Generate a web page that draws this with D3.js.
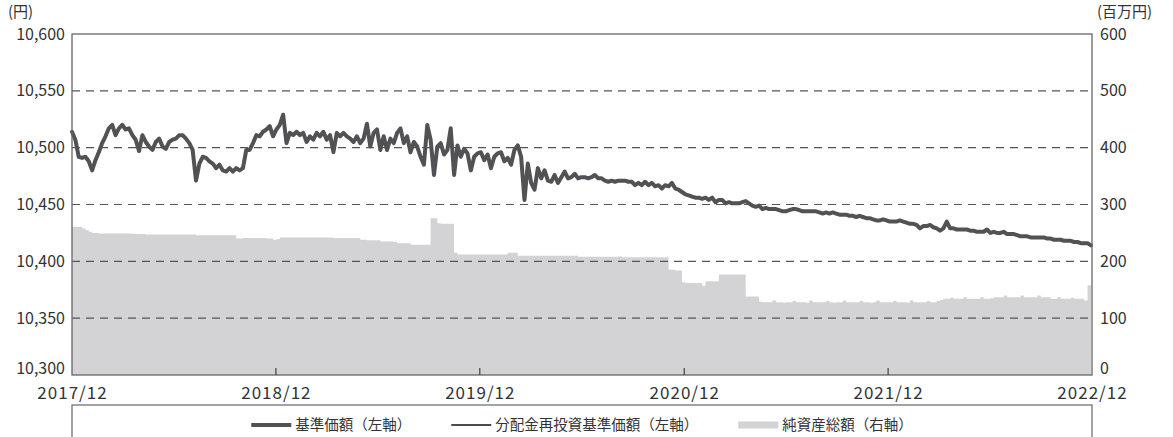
<!DOCTYPE html>
<html>
<head>
<meta charset="utf-8">
<script src="https://cdn.jsdelivr.net/npm/d3@7"></script>
<style>
  body { margin: 0; background: #fff; }
  svg text { font-family: "Noto Sans CJK JP", "Noto Sans", sans-serif; fill: #333; }
</style>
</head>
<body>
<svg id="chart" width="1173" height="437"></svg>
<script>
// Sampling: one observation every 6 calendar days from 2017/12/01
const startDate = new Date(2017, 11, 1);
const stepDays = 6;

// 基準価額 (円)
const navValues = [
  10514,10507,10492,10491,10492,10488,10480,10489,10496,10504,
  10510,10517,10520,10511,10517,10520,10516,10517,10511,10507,
  10497,10511,10505,10501,10498,10505,10508,10501,10499,10505,
  10507,10508,10511,10511,10508,10504,10498,10471,10486,10492,
  10491,10488,10486,10482,10485,10480,10479,10482,10479,10482,
  10480,10482,
  10498,10498,10504,10511,10510,10514,10516,10519,10510,10516,
  10520,10529,10504,10513,10511,10514,10511,10513,10505,10510,
  10507,10513,10510,10514,10507,10511,10496,10513,10510,10513,
  10510,10508,10505,10510,10504,10508,10521,10501,10513,10516,
  10498,10510,10498,10508,10504,10513,10517,10504,10510,10496,
  10505,10501,10492,10485,10520,10507,10476,10501,10504,10494,
  10498,10517,10476,10502,10492,10499,10495,10480,10492,10495,
  10496,10489,10494,10482,10492,10495,10496,10488,10491,10485,
  10498,10502,10492,10454,10486,10469,10463,10482,10473,10480,
  10471,10470,10476,10469,10474,10479,10473,10474,10477,10473,
  10474,
  10474,10473,10474,10476,10473,10473,10471,10470,10471,10470,
  10471,10471,10471,10470,10470,10467,10469,10467,10470,10467,
  10469,10466,10467,10464,10467,10466,10469,10464,10463,10461,
  10459,10458,10457,10456,10456,10455,10456,10454,10456,10452,
  10454,10454,10451,10452,10451,10451,10451,10452,10453,10451,
  10449,
  10448,10449,10446,10447,10446,10446,10446,10445,10444,10444,
  10445,10446,10446,10445,10444,10444,10444,10444,10444,10443,
  10442,10443,10442,10443,10442,10441,10441,10441,10440,10440,
  10439,10440,10439,10438,10438,10437,10436,10436,10437,10436,
  10435,10435,10435,10436,10435,10434,10433,10433,10432,10429,
  10431,
  10431,10432,10430,10429,10427,10429,10435,10429,10429,10428,
  10428,10428,10428,10427,10427,10426,10426,10426,10428,10425,
  10426,10425,10425,10426,10424,10424,10424,10423,10422,10422,
  10422,10421,10421,10421,10421,10421,10420,10420,10419,10419,
  10419,10418,10418,10418,10417,10417,10416,10416,10416,10414
];

// 分配金再投資基準価額 (円): no distributions over the period, so it equals 基準価額
const reinvestValues = navValues.slice();

// 純資産総額 (百万円)
const netAssets = [
  261,261,261,261,258,255,252,
  250,250,249,249,249,249,249,249,249,249,249,249,248,248,248,248,
  247,247,247,247,247,247,247,247,247,247,247,247,247,247,247,246,246,246,246,246,246,246,246,246,246,246,246,
  240,240,241,241,241,241,241,241,241,240,240,
  238,239,
  242,242,242,242,242,242,242,242,242,242,242,242,242,242,242,242,241,241,241,241,241,241,241,241,
  238,238,237,237,237,237,
  235,235,235,235,234,
  232,232,232,232,
  229,229,229,229,229,229,
  276,276,
  267,266,266,266,266,
  215,
  212,212,212,212,212,212,212,212,212,212,212,212,212,212,212,
  215,215,215,
  210,210,210,210,210,210,210,210,210,210,210,210,210,210,210,210,210,210,
  208,208,208,208,208,208,208,208,208,208,208,208,
  209,
  207,207,207,207,207,207,207,207,207,207,207,207,207,207,
  185,185,184,184,
  163,162,162,162,162,162,
  157,
  165,165,165,165,
  177,177,177,177,177,177,177,177,
  138,138,138,138,
  129,128,128,128,131,128,128,127,128,128,
  130,128,128,128,127,131,128,128,128,128,
  130,128,127,128,128,131,128,128,128,128,
  130,128,128,127,128,131,128,128,128,128,
  130,128,128,128,127,131,128,128,128,128,
  130,128,128,
  130,132,
  134,134,136,134,134,134,137,134,134,134,134,137,134,134,135,
  137,137,137,140,137,137,137,137,140,137,137,137,137,140,137,137,137,
  134,134,137,134,134,134,136,134,134,134,
  131,158
];

const leftTicks = [10300, 10350, 10400, 10450, 10500, 10550, 10600];
const gridValues = [10350, 10400, 10450, 10500, 10550];
const rightTicks = [0, 100, 200, 300, 400, 500, 600];
const xTickLabels = ["2017/12", "2018/12", "2019/12", "2020/12", "2021/12", "2022/12"];
const legendLabels = ["基準価額（左軸）", "分配金再投資基準価額（左軸）", "純資産総額（右軸）"];

const plot = { left: 72, right: 1092, top: 34, bottom: 375 };

const xTickDates = xTickLabels.map(s => {
  const [y, m] = s.split("/");
  return new Date(+y, +m - 1, 1);
});
const dateAt = i => d3.timeDay.offset(startDate, i * stepDays);

const x = d3.scaleTime()
  .domain([xTickDates[0], xTickDates[xTickDates.length - 1]])
  .range([plot.left, plot.right]);
const yL = d3.scaleLinear().domain([10300, 10600]).range([plot.bottom, plot.top]);
const yR = d3.scaleLinear().domain([0, 600]).range([plot.bottom, plot.top]);

const svg = d3.select("#chart");

// net assets area (right axis)
const assetArea = d3.area()
  .x((d, i) => x(dateAt(i)))
  .y0(yR(0))
  .y1(d => yR(d))
  .curve(d3.curveStepBefore);
svg.append("path")
  .datum(netAssets)
  .attr("d", assetArea)
  .attr("fill", "#d3d3d5");

// dashed grid
svg.append("g")
  .selectAll("line")
  .data(gridValues)
  .join("line")
  .attr("x1", plot.left).attr("x2", plot.right)
  .attr("y1", d => yL(d)).attr("y2", d => yL(d))
  .attr("stroke", "#555")
  .attr("stroke-width", 1.1)
  .attr("stroke-dasharray", "8,6");

// price lines (left axis)
const priceLine = d3.line()
  .x((d, i) => x(dateAt(i)))
  .y(d => yL(d));
svg.append("path")
  .datum(reinvestValues)
  .attr("d", priceLine)
  .attr("fill", "none")
  .attr("stroke", "#111")
  .attr("stroke-width", 1.2);
svg.append("path")
  .datum(navValues)
  .attr("d", priceLine)
  .attr("fill", "none")
  .attr("stroke", "#525254")
  .attr("stroke-width", 4)
  .attr("stroke-linejoin", "round")
  .attr("stroke-linecap", "round");

// frame
svg.append("rect")
  .attr("x", plot.left).attr("y", plot.top)
  .attr("width", plot.right - plot.left)
  .attr("height", plot.bottom - plot.top)
  .attr("fill", "none")
  .attr("stroke", "#666")
  .attr("stroke-width", 1.3);

// inner year ticks on the bottom edge
svg.append("g")
  .selectAll("line")
  .data(xTickDates.slice(1, -1))
  .join("line")
  .attr("x1", d => x(d)).attr("x2", d => x(d))
  .attr("y1", plot.bottom).attr("y2", plot.bottom - 7)
  .attr("stroke", "#444")
  .attr("stroke-width", 1.2);

// axes
const leftAxis = svg.append("g")
  .attr("transform", `translate(${plot.left},0)`)
  .call(d3.axisLeft(yL).tickValues(leftTicks).tickSize(0).tickPadding(7).tickFormat(d3.format(",")));
const rightAxis = svg.append("g")
  .attr("transform", `translate(${plot.right},0)`)
  .call(d3.axisRight(yR).tickValues(rightTicks).tickSize(0).tickPadding(8));
const bottomAxis = svg.append("g")
  .attr("transform", `translate(0,${plot.bottom})`)
  .call(d3.axisBottom(x).tickValues(xTickDates).tickSize(0).tickPadding(12)
    .tickFormat((d, i) => xTickLabels[i]));
[leftAxis, rightAxis, bottomAxis].forEach(g => {
  g.select(".domain").remove();
  g.selectAll("text")
    .attr("font-family", null)
    .style("font-size", "16px")
    .style("fill", "#333");
});
bottomAxis.selectAll("text")
  .style("font-size", "17px")
  .style("letter-spacing", "1px");
// lift the lowest value labels clear of the date labels
leftAxis.selectAll(".tick").filter(d => d === leftTicks[0]).select("text").attr("y", -7);
rightAxis.selectAll(".tick").filter(d => d === rightTicks[0]).select("text").attr("y", -7);

// unit labels
svg.append("text").attr("x", 8).attr("y", 17).style("font-size", "15px").text("(円)");
svg.append("text").attr("x", 1097).attr("y", 17).style("font-size", "15px").text("(百万円)");

// legend
const legTop = 405, legY = 425;
svg.append("rect")
  .attr("x", plot.left).attr("y", legTop)
  .attr("width", plot.right - plot.left).attr("height", 60)
  .attr("fill", "none").attr("stroke", "#666").attr("stroke-width", 1.2);

const legend = svg.append("g");
const swatchW = 40, swatchGap = 4, itemGap = 40;
let cursor = 0;
legendLabels.forEach((label, i) => {
  const g = legend.append("g").attr("transform", `translate(${cursor},0)`);
  if (i === 0) {
    g.append("line").attr("x1", 0).attr("x2", swatchW).attr("y1", legY).attr("y2", legY)
      .attr("stroke", "#525254").attr("stroke-width", 4);
  } else if (i === 1) {
    g.append("line").attr("x1", 0).attr("x2", swatchW).attr("y1", legY).attr("y2", legY)
      .attr("stroke", "#111").attr("stroke-width", 1.5);
  } else {
    g.append("rect").attr("x", 0).attr("y", legY - 3.5).attr("width", swatchW).attr("height", 7)
      .attr("fill", "#d3d3d5");
  }
  const t = g.append("text")
    .attr("x", swatchW + swatchGap).attr("y", legY)
    .attr("dy", "0.35em")
    .style("font-size", "14.5px")
    .text(label);
  cursor += swatchW + swatchGap + t.node().getComputedTextLength() + itemGap;
});
const totalW = cursor - itemGap;
legend.attr("transform", `translate(${(plot.left + plot.right) / 2 - totalW / 2},0)`);
</script>
</body>
</html>
